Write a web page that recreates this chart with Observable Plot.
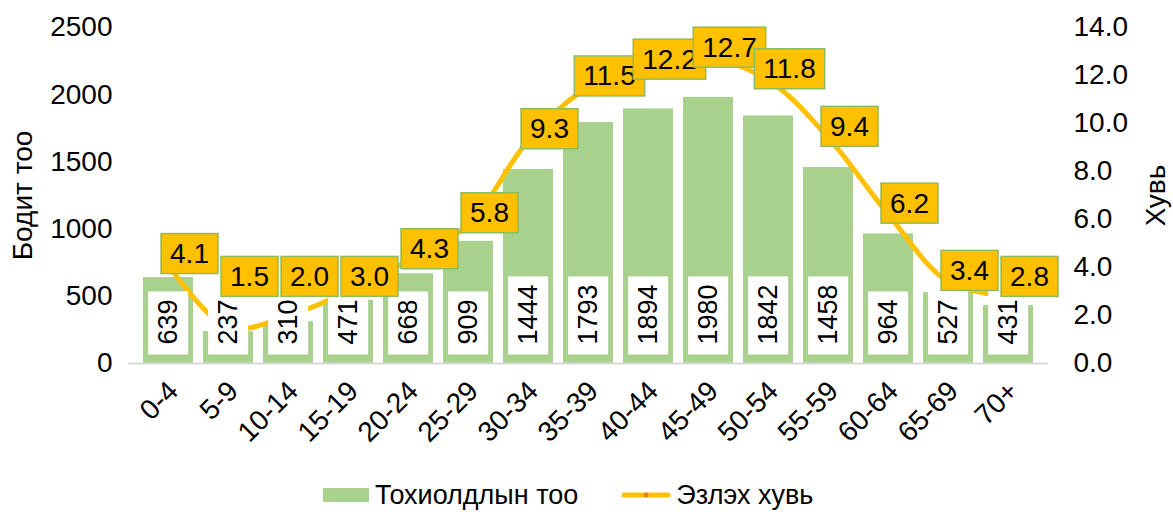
<!DOCTYPE html>
<html><head><meta charset="utf-8">
<script src="https://cdn.jsdelivr.net/npm/d3@7"></script>
<script src="https://cdn.jsdelivr.net/npm/@observablehq/plot@0.6"></script>
<style>
body{margin:0;background:#fff;font-family:"Liberation Sans",Arial,sans-serif;overflow:hidden;}
#legend{height:30px;display:flex;align-items:center;padding-left:323px;font-size:27px;color:#000;white-space:nowrap;}
</style></head><body>
<div id="chart"></div>
<div id="legend"></div>
<script>
const categories = ["0-4","5-9","10-14","15-19","20-24","25-29","30-34","35-39","40-44","45-49","50-54","55-59","60-64","65-69","70+"];
const counts = [639,237,310,471,668,909,1444,1793,1894,1980,1842,1458,964,527,431];
const shares = [4.1,1.5,2.0,3.0,4.3,5.8,9.3,11.5,12.2,12.7,11.8,9.4,6.2,3.4,2.8];
const leftTicks = [0,500,1000,1500,2000,2500];
const rightTicks = [0,2,4,6,8,10,12,14];
const seriesNames = ["Тохиолдлын тоо","Эзлэх хувь"];
const axisTitles = ["Бодит тоо","Хувь"];

const yMax = 2500, rMax = 14, k = yMax / rMax;
const rows = categories.map((c,i) => ({cat:c, count:counts[i], share:shares[i], shareY:shares[i]*k}));

const chart = Plot.plot({
  width:1173, height:480, marginLeft:128, marginRight:125, marginTop:27, marginBottom:117,
  style:{fontFamily:"Liberation Sans, Arial, sans-serif", fontSize:"28px", color:"#000", background:"#fff"},
  x:{domain:categories, padding:0.16},
  y:{domain:[0,yMax]},
  marks:[
    Plot.barY(rows,{x:"cat", y:"count", fill:"#a9d18e"}),
    Plot.ruleY([0],{stroke:"#d9d9d9", strokeWidth:2}),
    Plot.axisY({anchor:"left", ticks:leftTicks, tickFormat:d=>String(d), tickSize:0, tickPadding:16, label:axisTitles[0], labelAnchor:"center", labelArrow:"none", labelOffset:116}),
    Plot.axisY({anchor:"right", ticks:rightTicks.map(v=>v*k), tickFormat:d=>(d/k).toFixed(1), tickSize:0, tickPadding:25, label:axisTitles[1], labelAnchor:"center", labelArrow:"none", labelOffset:116}),
    Plot.axisX({tickRotate:-45, tickSize:0, tickPadding:23, dx:5, label:null}),
    Plot.line(rows,{x:"cat", y:"shareY", stroke:"#ffc000", strokeWidth:5, curve:"catmull-rom"}),
    Plot.dot(rows,{x:"cat", y:"shareY", r:2.5, fill:"#ed7d31"}),
    Plot.text(rows,{x:"cat", y:0, text:d=>String(d.count), rotate:-90, textAnchor:"start", dy:-19, fontSize:27, fill:"#000", ariaDescription:"barlabels"}),
    Plot.text(rows,{x:"cat", y:"shareY", text:d=>d.share.toFixed(1), dx:21, dy:-11, fill:"#000", ariaDescription:"pctlabels"})
  ]
});
document.getElementById("chart").append(chart);

function addBoxes(desc, fill, stroke, padStart, padEnd, padY){
  const out = [];
  d3.select(chart).selectAll(`g[aria-description="${desc}"] text`).each(function(){
    const b = this.getBBox();
    const g = document.createElementNS("http://www.w3.org/2000/svg","g");
    const r = document.createElementNS("http://www.w3.org/2000/svg","rect");
    r.setAttribute("x", b.x - padStart);
    r.setAttribute("y", b.y - padY);
    r.setAttribute("width", b.width + padStart + padEnd);
    r.setAttribute("height", b.height + 2*padY);
    r.setAttribute("fill", fill);
    if (stroke) { r.setAttribute("stroke", stroke); r.setAttribute("stroke-width", 1.5); }
    const t = this.getAttribute("transform");
    if (t) r.setAttribute("transform", t);
    this.parentNode.insertBefore(g, this);
    g.appendChild(r);
    g.appendChild(this);
    out.push({g, rect:r, text:this});
  });
  return out;
}
const barBoxes = addBoxes("barlabels", "#ffffff", null, 10, 8, 5);
const pctBoxes = addBoxes("pctlabels", "#ffc000", "#8fbc5a", 9, 9, 4.5);

// keep each percentage label clear of the count labels: lift it just above them if they collide
const barTextRects = barBoxes.map(b => b.text.getBoundingClientRect());
pctBoxes.forEach(p => {
  const r = p.rect.getBoundingClientRect();
  let lift = 0;
  barTextRects.forEach(t => {
    const xOverlap = r.left < t.right && r.right > t.left;
    if (xOverlap && r.bottom > t.top - 3) lift = Math.max(lift, r.bottom - (t.top - 3));
  });
  if (lift > 0) p.g.setAttribute("transform", `translate(0,${-lift})`);
});

const lg = d3.select("#legend");
lg.append("span").style("display","inline-block").style("width","46px").style("height","14px").style("background","#a9d18e").style("margin-right","6px");
lg.append("span").text(seriesNames[0]);
const sw = lg.append("svg").attr("width",50).attr("height",16).style("margin-left","43px").style("margin-right","5px");
sw.append("line").attr("x1",3).attr("x2",47).attr("y1",8).attr("y2",8).attr("stroke","#ffc000").attr("stroke-width",5).attr("stroke-linecap","round");
sw.append("circle").attr("cx",25).attr("cy",8).attr("r",2.5).attr("fill","#ed7d31");
lg.append("span").text(seriesNames[1]);
</script>
</body></html>
